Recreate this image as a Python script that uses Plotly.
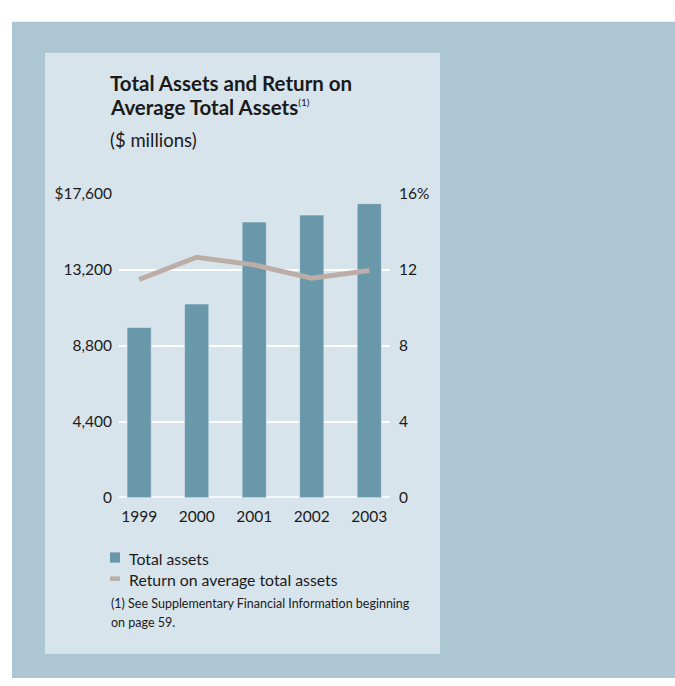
import plotly.graph_objects as go

W, H = 675, 686

years = ["1999", "2000", "2001", "2002", "2003"]
total_assets = [9870, 11230, 15980, 16380, 17040]          # $ millions
return_on_assets = [11.50, 12.67, 12.27, 11.57, 11.97]      # percent

left_ticks = [0, 4400, 8800, 13200, 17600]
left_labels = ["0", "4,400", "8,800", "13,200", "$17,600"]
right_ticks = [0, 4, 8, 12, 16]
right_labels = ["0", "4", "8", "12", "16%"]

OUTER = "#adc6d3"
PANEL = "#d8e4ec"
BAR = "#6a98ab"
LINE = "#bcaea7"
TEXT = "#1a1a1a"
FONT = "Lato"


def px(x):
    return x / W


def py(y):
    return 1 - y / H


def label(text, x, y, size, anchor="middle"):
    return dict(text=text, x=px(x), y=py(y), xref="paper", yref="paper",
                xanchor="left", yanchor=anchor, align="left", showarrow=False,
                font=dict(size=size, color=TEXT, family=FONT))


fig = go.Figure()
fig.add_trace(go.Bar(x=years, y=total_assets, marker_color=BAR, width=0.42,
                     name="Total assets", yaxis="y"))
fig.add_trace(go.Scatter(x=years, y=return_on_assets, mode="lines",
                         line=dict(color=LINE, width=5), name="Return on average total assets",
                         yaxis="y2"))

shapes = [
    dict(type="rect", xref="paper", yref="paper", x0=px(12), x1=1, y0=0, y1=py(12),
         fillcolor=OUTER, line_width=0, layer="below"),
    dict(type="rect", xref="paper", yref="paper", x0=px(45), x1=px(440), y0=py(661), y1=py(44),
         fillcolor=PANEL, line_width=0, layer="below"),
    # baseline
    dict(type="line", xref="paper", yref="y", x0=px(119), x1=px(390), y0=0, y1=0,
         line=dict(color="white", width=3), layer="below"),
    # legend keys
    dict(type="rect", xref="paper", yref="paper", x0=px(110), x1=px(120), y0=py(567.5), y1=py(557),
         fillcolor=BAR, line_width=0),
    dict(type="line", xref="paper", yref="paper", x0=px(110), x1=px(120), y0=py(584), y1=py(584),
         line=dict(color=LINE, width=4.5)),
]

annotations = [
    label("<b>Total Assets and Return on</b>", 108, 75, 20.5),
    label("<b>Average Total Assets</b><sup><span style='font-size:10px'>(1)</span></sup>", 108, 100, 20.5),
    label("($ millions)", 108, 134, 18.5),
    label("Total assets", 127, 563, 15.8),
    label("Return on average total assets", 127, 585, 15.8),
    label("(1) See Supplementary Financial Information beginning", 109, 610, 12.5),
    label("on page 59.", 109, 629, 12.5),
]

fig.update_layout(
    width=W, height=H, margin=dict(l=0, r=0, t=0, b=0),
    paper_bgcolor="white", plot_bgcolor="rgba(0,0,0,0)",
    showlegend=False, bargap=0.5,
    font=dict(family=FONT, size=15, color=TEXT),
    xaxis=dict(domain=[px(119), px(390)], range=[-0.35, 4.36], showgrid=False, zeroline=False,
               showline=False, ticks="", tickfont=dict(size=15.5), ticklabelstandoff=8),
    yaxis=dict(domain=[py(501), py(189)], range=[0, 17600], tickvals=left_ticks, ticktext=left_labels,
               showgrid=True, gridcolor="white", gridwidth=1.5, zeroline=False, showline=False,
               ticks="", tickfont=dict(size=15.5), ticklabelstandoff=6),
    yaxis2=dict(overlaying="y", side="right", range=[0, 16], tickvals=right_ticks, ticktext=right_labels,
                showgrid=False, zeroline=False, showline=False, ticks="", tickfont=dict(size=15.5),
                ticklabelstandoff=8),
    shapes=shapes, annotations=annotations,
)

fig.write_html("out.html")
